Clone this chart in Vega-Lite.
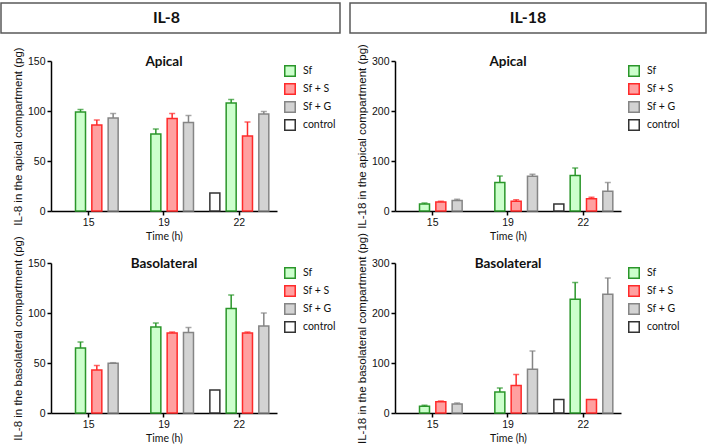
{
  "$schema": "https://vega.github.io/schema/vega-lite/v6.json",
  "padding": {"left": 0, "top": 2, "right": 0, "bottom": 0},
  "datasets": {
    "il8ap": [
      {"time": "15", "group": "Sf", "v": 99, "hi": 101.5},
      {"time": "15", "group": "Sf + S", "v": 86, "hi": 91},
      {"time": "15", "group": "Sf + G", "v": 93, "hi": 97.5},
      {"time": "19", "group": "Sf", "v": 77, "hi": 82},
      {"time": "19", "group": "Sf + S", "v": 92.5, "hi": 97.5},
      {"time": "19", "group": "Sf + G", "v": 88.5, "hi": 95.5},
      {"time": "22", "group": "control", "v": 18, "hi": null},
      {"time": "22", "group": "Sf", "v": 108, "hi": 111.5},
      {"time": "22", "group": "Sf + S", "v": 75, "hi": 89},
      {"time": "22", "group": "Sf + G", "v": 97, "hi": 99.5}
    ],
    "il18ap": [
      {"time": "15", "group": "Sf", "v": 14, "hi": 16},
      {"time": "15", "group": "Sf + S", "v": 18, "hi": 19.5},
      {"time": "15", "group": "Sf + G", "v": 21, "hi": 23.5},
      {"time": "19", "group": "Sf", "v": 57, "hi": 70},
      {"time": "19", "group": "Sf + S", "v": 19.5, "hi": 22.5},
      {"time": "19", "group": "Sf + G", "v": 69.5, "hi": 73.5},
      {"time": "22", "group": "control", "v": 14, "hi": null},
      {"time": "22", "group": "Sf", "v": 71, "hi": 86},
      {"time": "22", "group": "Sf + S", "v": 24.5, "hi": 27.5},
      {"time": "22", "group": "Sf + G", "v": 39.5, "hi": 57}
    ],
    "il8bl": [
      {"time": "15", "group": "Sf", "v": 65, "hi": 71},
      {"time": "15", "group": "Sf + S", "v": 43, "hi": 47.5},
      {"time": "15", "group": "Sf + G", "v": 49.7, "hi": 50.3},
      {"time": "19", "group": "Sf", "v": 86, "hi": 90},
      {"time": "19", "group": "Sf + S", "v": 80, "hi": 81},
      {"time": "19", "group": "Sf + G", "v": 80.5, "hi": 85.5},
      {"time": "22", "group": "control", "v": 23, "hi": null},
      {"time": "22", "group": "Sf", "v": 104.5, "hi": 118},
      {"time": "22", "group": "Sf + S", "v": 80, "hi": 81},
      {"time": "22", "group": "Sf + G", "v": 87, "hi": 100}
    ],
    "il18bl": [
      {"time": "15", "group": "Sf", "v": 13.5, "hi": 15.5},
      {"time": "15", "group": "Sf + S", "v": 22.5, "hi": 24},
      {"time": "15", "group": "Sf + G", "v": 18, "hi": 20},
      {"time": "19", "group": "Sf", "v": 42, "hi": 50},
      {"time": "19", "group": "Sf + S", "v": 55, "hi": 77},
      {"time": "19", "group": "Sf + G", "v": 87.5, "hi": 124},
      {"time": "22", "group": "control", "v": 27, "hi": null},
      {"time": "22", "group": "Sf", "v": 227.5, "hi": 261},
      {"time": "22", "group": "Sf + S", "v": 27, "hi": null},
      {"time": "22", "group": "Sf + G", "v": 237.5, "hi": 270}
    ]
  },
  "vconcat": [
    {
      "hconcat": [
        {"width": 339, "height": 30, "view": {"stroke": "#595959", "strokeWidth": 1.5},
         "data": {"values": [{"h": "IL-8"}]},
         "mark": {"type": "text", "font": "Lato", "fontWeight": "bold", "fontSize": 16, "color": "#111", "dx": -4},
         "encoding": {"text": {"field": "h"}}},
        {"width": 356, "height": 30, "view": {"stroke": "#595959", "strokeWidth": 1.5},
         "data": {"values": [{"h": "IL-18"}]},
         "mark": {"type": "text", "font": "Lato", "fontWeight": "bold", "fontSize": 16, "color": "#111"},
         "encoding": {"text": {"field": "h"}}}
      ],
      "spacing": 8
    },
    {
      "hconcat": [
        {"width": 1, "height": 1, "data": {"values": []}, "mark": "point"},
        {
          "vconcat": [
            {
              "hconcat": [
                {
                  "width": 226, "height": 150,
                  "data": {"name": "il8ap"},
                  "layer": [
                    {"mark": {"type": "bar", "strokeWidth": 1.5},
                     "encoding": {
                       "x": {"field": "time", "type": "nominal", "scale": {"domain": ["15", "19", "22"], "paddingInner": 0.135, "paddingOuter": 0.0675}, "axis": {"title": "Time (h)"}},
                       "xOffset": {"field": "group", "type": "nominal", "scale": {"domain": ["control", "Sf", "Sf + S", "Sf + G"], "paddingInner": 0.387, "paddingOuter": 0.19}},
                       "y": {"field": "v", "type": "quantitative", "scale": {"domain": [0, 150], "nice": false}, "axis": {"values": [0, 50, 100, 150], "title": "IL-8 in the apical compartment (pg)"}},
                       "fill": {"field": "group", "type": "nominal", "scale": {"domain": ["Sf", "Sf + S", "Sf + G", "control"], "range": ["#ccffcc", "#ffa0a0", "#d3d3d3", "#ffffff"]}, "legend": {"title": null}},
                       "stroke": {"field": "group", "type": "nominal", "scale": {"domain": ["Sf", "Sf + S", "Sf + G", "control"], "range": ["#2a962a", "#ff2a2a", "#858585", "#333333"]}, "legend": {"title": null}}
                     }},
                    {"transform": [{"filter": "datum.hi != null"}],
                     "mark": {"type": "rule", "strokeWidth": 1.5},
                     "encoding": {
                       "x": {"field": "time", "type": "nominal"},
                       "xOffset": {"field": "group", "type": "nominal"},
                       "y": {"field": "v", "type": "quantitative"},
                       "y2": {"field": "hi"},
                       "stroke": {"field": "group", "type": "nominal"}
                     }},
                    {"transform": [{"filter": "datum.hi != null"}],
                     "mark": {"type": "tick", "orient": "horizontal", "size": 6, "thickness": 1.5},
                     "encoding": {
                       "x": {"field": "time", "type": "nominal"},
                       "xOffset": {"field": "group", "type": "nominal"},
                       "y": {"field": "hi", "type": "quantitative"},
                       "color": {"field": "group", "type": "nominal", "scale": {"domain": ["Sf", "Sf + S", "Sf + G", "control"], "range": ["#2a962a", "#ff2a2a", "#858585", "#333333"]}, "legend": null}
                     }},
                    {"data": {"values": [{"t": "Apical"}]},
                     "mark": {"type": "text", "font": "Lato", "fontWeight": "bold", "fontSize": 13.5, "baseline": "middle", "dy": 1, "color": "#111"},
                     "encoding": {"x": {"datum": "19", "type": "nominal"}, "y": {"datum": 150, "type": "quantitative"}, "text": {"field": "t"}}}
                  ]
                },
                {
                  "width": 226, "height": 150,
                  "data": {"name": "il18ap"},
                  "layer": [
                    {"mark": {"type": "bar", "strokeWidth": 1.5},
                     "encoding": {
                       "x": {"field": "time", "type": "nominal", "scale": {"domain": ["15", "19", "22"], "paddingInner": 0.135, "paddingOuter": 0.0675}, "axis": {"title": "Time (h)"}},
                       "xOffset": {"field": "group", "type": "nominal", "scale": {"domain": ["control", "Sf", "Sf + S", "Sf + G"], "paddingInner": 0.387, "paddingOuter": 0.19}},
                       "y": {"field": "v", "type": "quantitative", "scale": {"domain": [0, 300], "nice": false}, "axis": {"values": [0, 100, 200, 300], "title": "IL-18 in the apical compartment (pg)"}},
                       "fill": {"field": "group", "type": "nominal", "scale": {"domain": ["Sf", "Sf + S", "Sf + G", "control"], "range": ["#ccffcc", "#ffa0a0", "#d3d3d3", "#ffffff"]}, "legend": {"title": null}},
                       "stroke": {"field": "group", "type": "nominal", "scale": {"domain": ["Sf", "Sf + S", "Sf + G", "control"], "range": ["#2a962a", "#ff2a2a", "#858585", "#333333"]}, "legend": {"title": null}}
                     }},
                    {"transform": [{"filter": "datum.hi != null"}],
                     "mark": {"type": "rule", "strokeWidth": 1.5},
                     "encoding": {
                       "x": {"field": "time", "type": "nominal"},
                       "xOffset": {"field": "group", "type": "nominal"},
                       "y": {"field": "v", "type": "quantitative"},
                       "y2": {"field": "hi"},
                       "stroke": {"field": "group", "type": "nominal"}
                     }},
                    {"transform": [{"filter": "datum.hi != null"}],
                     "mark": {"type": "tick", "orient": "horizontal", "size": 6, "thickness": 1.5},
                     "encoding": {
                       "x": {"field": "time", "type": "nominal"},
                       "xOffset": {"field": "group", "type": "nominal"},
                       "y": {"field": "hi", "type": "quantitative"},
                       "color": {"field": "group", "type": "nominal", "scale": {"domain": ["Sf", "Sf + S", "Sf + G", "control"], "range": ["#2a962a", "#ff2a2a", "#858585", "#333333"]}, "legend": null}
                     }},
                    {"data": {"values": [{"t": "Apical"}]},
                     "mark": {"type": "text", "font": "Lato", "fontWeight": "bold", "fontSize": 13.5, "baseline": "middle", "dy": 1, "color": "#111"},
                     "encoding": {"x": {"datum": "19", "type": "nominal"}, "y": {"datum": 300, "type": "quantitative"}, "text": {"field": "t"}}}
                  ]
                }
              ],
              "spacing": 16,
              "resolve": {"scale": {"fill": "independent", "stroke": "independent", "color": "independent"}, "legend": {"fill": "independent", "stroke": "independent", "color": "independent"}}
            },
            {
              "hconcat": [
                {
                  "width": 226, "height": 150,
                  "data": {"name": "il8bl"},
                  "layer": [
                    {"mark": {"type": "bar", "strokeWidth": 1.5},
                     "encoding": {
                       "x": {"field": "time", "type": "nominal", "scale": {"domain": ["15", "19", "22"], "paddingInner": 0.135, "paddingOuter": 0.0675}, "axis": {"title": "Time (h)"}},
                       "xOffset": {"field": "group", "type": "nominal", "scale": {"domain": ["control", "Sf", "Sf + S", "Sf + G"], "paddingInner": 0.387, "paddingOuter": 0.19}},
                       "y": {"field": "v", "type": "quantitative", "scale": {"domain": [0, 150], "nice": false}, "axis": {"values": [0, 50, 100, 150], "title": "IL-8 in the basolateral compartment (pg)"}},
                       "fill": {"field": "group", "type": "nominal", "scale": {"domain": ["Sf", "Sf + S", "Sf + G", "control"], "range": ["#ccffcc", "#ffa0a0", "#d3d3d3", "#ffffff"]}, "legend": {"title": null}},
                       "stroke": {"field": "group", "type": "nominal", "scale": {"domain": ["Sf", "Sf + S", "Sf + G", "control"], "range": ["#2a962a", "#ff2a2a", "#858585", "#333333"]}, "legend": {"title": null}}
                     }},
                    {"transform": [{"filter": "datum.hi != null"}],
                     "mark": {"type": "rule", "strokeWidth": 1.5},
                     "encoding": {
                       "x": {"field": "time", "type": "nominal"},
                       "xOffset": {"field": "group", "type": "nominal"},
                       "y": {"field": "v", "type": "quantitative"},
                       "y2": {"field": "hi"},
                       "stroke": {"field": "group", "type": "nominal"}
                     }},
                    {"transform": [{"filter": "datum.hi != null"}],
                     "mark": {"type": "tick", "orient": "horizontal", "size": 6, "thickness": 1.5},
                     "encoding": {
                       "x": {"field": "time", "type": "nominal"},
                       "xOffset": {"field": "group", "type": "nominal"},
                       "y": {"field": "hi", "type": "quantitative"},
                       "color": {"field": "group", "type": "nominal", "scale": {"domain": ["Sf", "Sf + S", "Sf + G", "control"], "range": ["#2a962a", "#ff2a2a", "#858585", "#333333"]}, "legend": null}
                     }},
                    {"data": {"values": [{"t": "Basolateral"}]},
                     "mark": {"type": "text", "font": "Lato", "fontWeight": "bold", "fontSize": 13.5, "baseline": "middle", "dy": 1, "color": "#111"},
                     "encoding": {"x": {"datum": "19", "type": "nominal"}, "y": {"datum": 150, "type": "quantitative"}, "text": {"field": "t"}}}
                  ]
                },
                {
                  "width": 226, "height": 150,
                  "data": {"name": "il18bl"},
                  "layer": [
                    {"mark": {"type": "bar", "strokeWidth": 1.5},
                     "encoding": {
                       "x": {"field": "time", "type": "nominal", "scale": {"domain": ["15", "19", "22"], "paddingInner": 0.135, "paddingOuter": 0.0675}, "axis": {"title": "Time (h)"}},
                       "xOffset": {"field": "group", "type": "nominal", "scale": {"domain": ["control", "Sf", "Sf + S", "Sf + G"], "paddingInner": 0.387, "paddingOuter": 0.19}},
                       "y": {"field": "v", "type": "quantitative", "scale": {"domain": [0, 300], "nice": false}, "axis": {"values": [0, 100, 200, 300], "title": "IL-18 in the basolateral compartment (pg)"}},
                       "fill": {"field": "group", "type": "nominal", "scale": {"domain": ["Sf", "Sf + S", "Sf + G", "control"], "range": ["#ccffcc", "#ffa0a0", "#d3d3d3", "#ffffff"]}, "legend": {"title": null}},
                       "stroke": {"field": "group", "type": "nominal", "scale": {"domain": ["Sf", "Sf + S", "Sf + G", "control"], "range": ["#2a962a", "#ff2a2a", "#858585", "#333333"]}, "legend": {"title": null}}
                     }},
                    {"transform": [{"filter": "datum.hi != null"}],
                     "mark": {"type": "rule", "strokeWidth": 1.5},
                     "encoding": {
                       "x": {"field": "time", "type": "nominal"},
                       "xOffset": {"field": "group", "type": "nominal"},
                       "y": {"field": "v", "type": "quantitative"},
                       "y2": {"field": "hi"},
                       "stroke": {"field": "group", "type": "nominal"}
                     }},
                    {"transform": [{"filter": "datum.hi != null"}],
                     "mark": {"type": "tick", "orient": "horizontal", "size": 6, "thickness": 1.5},
                     "encoding": {
                       "x": {"field": "time", "type": "nominal"},
                       "xOffset": {"field": "group", "type": "nominal"},
                       "y": {"field": "hi", "type": "quantitative"},
                       "color": {"field": "group", "type": "nominal", "scale": {"domain": ["Sf", "Sf + S", "Sf + G", "control"], "range": ["#2a962a", "#ff2a2a", "#858585", "#333333"]}, "legend": null}
                     }},
                    {"data": {"values": [{"t": "Basolateral"}]},
                     "mark": {"type": "text", "font": "Lato", "fontWeight": "bold", "fontSize": 13.5, "baseline": "middle", "dy": 1, "color": "#111"},
                     "encoding": {"x": {"datum": "19", "type": "nominal"}, "y": {"datum": 300, "type": "quantitative"}, "text": {"field": "t"}}}
                  ]
                }
              ],
              "spacing": 16,
              "resolve": {"scale": {"fill": "independent", "stroke": "independent", "color": "independent"}, "legend": {"fill": "independent", "stroke": "independent", "color": "independent"}}
            }
          ],
          "spacing": -10,
          "resolve": {"scale": {"fill": "independent", "stroke": "independent", "color": "independent"}, "legend": {"fill": "independent", "stroke": "independent", "color": "independent"}}
        }
      ],
      "spacing": 10,
      "resolve": {"scale": {"fill": "independent", "stroke": "independent", "color": "independent"}, "legend": {"fill": "independent", "stroke": "independent", "color": "independent"}}
    }
  ],
  "spacing": 9,
  "resolve": {"scale": {"fill": "independent", "stroke": "independent", "color": "independent"}, "legend": {"fill": "independent", "stroke": "independent", "color": "independent"}},
  "config": {
    "font": "Liberation Sans",
    "view": {"stroke": null},
    "axis": {
      "grid": false, "domainColor": "#000", "tickColor": "#000", "domainWidth": 1.5, "tickWidth": 1.5, "tickSize": 4,
      "labelFont": "Liberation Sans", "labelFontSize": 10.5, "labelColor": "#111",
      "titleFont": "Liberation Sans", "titleFontSize": 11.5, "titleFontWeight": "normal", "titleColor": "#111"
    },
    "axisX": {"labelAngle": 0, "labelPadding": 2, "titlePadding": 4, "titleFont": "Lato", "titleFontSize": 10.5},
    "axisY": {"labelPadding": 2, "titlePadding": 4},
    "legend": {
      "symbolType": "square", "symbolSize": 110, "symbolStrokeWidth": 1.5, "labelFont": "Lato", "labelFontSize": 10.5,
      "labelColor": "#111", "rowPadding": 0, "offset": 3, "padding": 4, "labelOffset": 7
    }
  }
}
